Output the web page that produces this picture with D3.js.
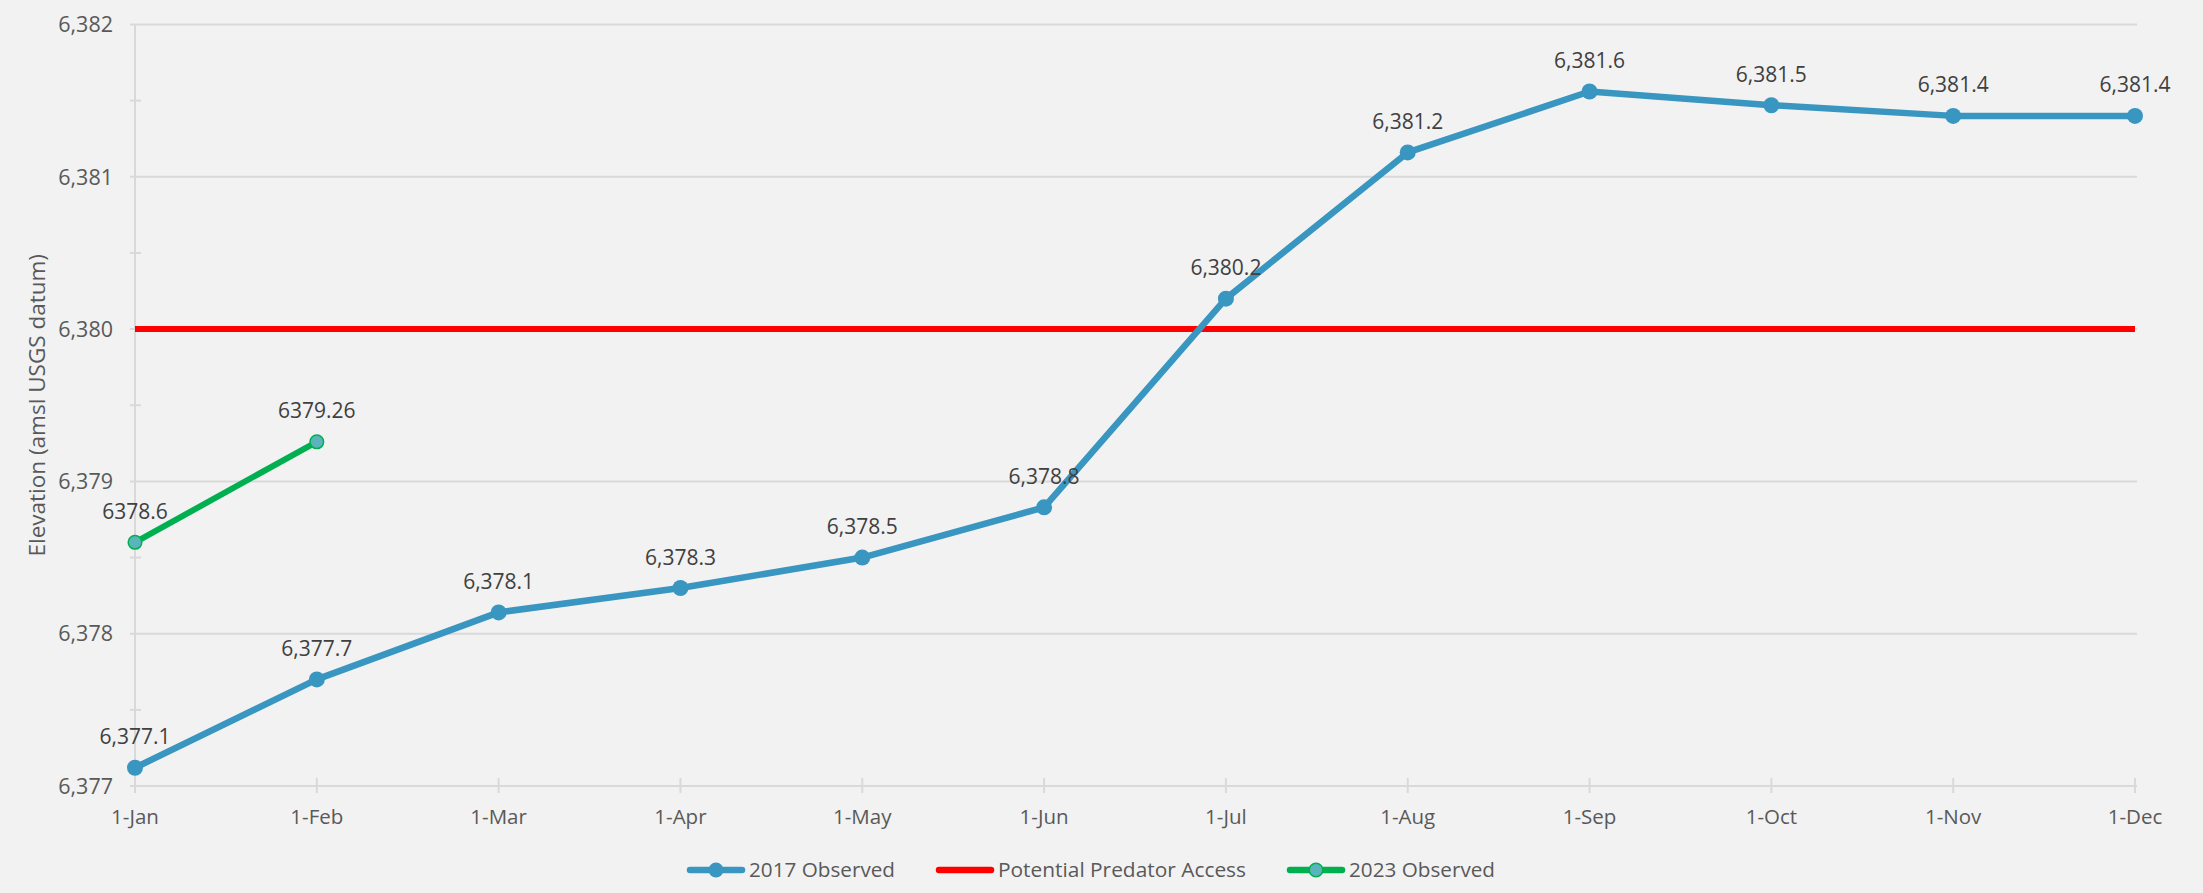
<!DOCTYPE html>
<html><head><meta charset="utf-8">
<script src="https://cdn.jsdelivr.net/npm/d3@7"></script>
<style>html,body{margin:0;padding:0;background:#f2f2f2;}svg{display:block;}</style>
</head><body>
<svg id="c" width="2203" height="893"></svg>
<script>
const months = ["1-Jan","1-Feb","1-Mar","1-Apr","1-May","1-Jun","1-Jul","1-Aug","1-Sep","1-Oct","1-Nov","1-Dec"];
const obs2017 = [6377.12,6377.7,6378.14,6378.3,6378.5,6378.83,6380.2,6381.16,6381.56,6381.47,6381.4,6381.4];
const labels2017 = ["6,377.1","6,377.7","6,378.1","6,378.3","6,378.5","6,378.8","6,380.2","6,381.2","6,381.6","6,381.5","6,381.4","6,381.4"];
const predator = [6380,6380,6380,6380,6380,6380,6380,6380,6380,6380,6380,6380];
const obs2023 = [6378.6,6379.26];
const labels2023 = ["6378.6","6379.26"];
const yTicks = [6377,6378,6379,6380,6381,6382];
const yMinor = [6377.5,6378.5,6379.5,6380.5,6381.5];
const yTitle = "Elevation (amsl USGS datum)";
const legendNames = ["2017 Observed","Potential Predator Access","2023 Observed"];

const svg = d3.select("#c");
const font = "'Open Sans', 'Noto Sans', sans-serif";
const L=135, R=2135, T=24.5, B=786;
const x = d3.scalePoint().domain(months).range([L,R]);
const y = d3.scaleLinear().domain([6377,6382]).range([B,T]);
const grid="#d9d9d9", txt="#595959";

// gridlines
svg.append("g").selectAll("line").data(yTicks).join("line")
  .attr("x1",L-5).attr("x2",R+2).attr("y1",d=>y(d)).attr("y2",d=>y(d))
  .attr("stroke",grid).attr("stroke-width",2);
// y axis line
svg.append("line").attr("x1",L).attr("x2",L).attr("y1",T).attr("y2",B+7).attr("stroke",grid).attr("stroke-width",2);
// minor ticks
svg.append("g").selectAll("line").data(yMinor).join("line")
  .attr("x1",L-5).attr("x2",L+6).attr("y1",d=>y(d)).attr("y2",d=>y(d))
  .attr("stroke",grid).attr("stroke-width",2);
// x ticks
svg.append("g").selectAll("line").data(months).join("line")
  .attr("x1",d=>x(d)).attr("x2",d=>x(d)).attr("y1",B-8).attr("y2",B+7)
  .attr("stroke",grid).attr("stroke-width",2);
// y tick labels
svg.append("g").selectAll("text").data(yTicks).join("text")
  .attr("x",L-22).attr("y",d=>y(d)).attr("dy","0.36em").attr("text-anchor","end")
  .attr("font-family",font).attr("font-size",21.5).attr("fill",txt)
  .text(d=>d3.format(",")(d));
// x tick labels
svg.append("g").selectAll("text").data(months).join("text")
  .attr("x",d=>x(d)).attr("y",817).attr("dy","0.36em").attr("text-anchor","middle")
  .attr("font-family",font).attr("font-size",20.5).attr("fill",txt)
  .text(d=>d);
// y title
svg.append("text").attr("transform",`translate(37,${(T+B)/2}) rotate(-90)`)
  .attr("text-anchor","middle").attr("dy","0.36em")
  .attr("font-family",font).attr("font-size",22.5).attr("fill",txt).text(yTitle);

const line = d3.line().x((d,i)=>x(months[i])).y(d=>y(d));
// predator line
svg.append("path").datum(predator).attr("d",line).attr("fill","none").attr("stroke","#ff0000").attr("stroke-width",6);
// 2017
svg.append("path").datum(obs2017).attr("d",line).attr("fill","none").attr("stroke","#3896c0").attr("stroke-width",6.5).attr("stroke-linejoin","round");
svg.append("g").selectAll("circle").data(obs2017).join("circle")
  .attr("cx",(d,i)=>x(months[i])).attr("cy",d=>y(d)).attr("r",8).attr("fill","#3896c0");
svg.append("g").selectAll("text").data(obs2017).join("text")
  .attr("x",(d,i)=>x(months[i])).attr("y",d=>y(d)-31).attr("dy","0.36em").attr("text-anchor","middle")
  .attr("font-family",font).attr("font-size",21).attr("fill","#404040")
  .text((d,i)=>labels2017[i]);
// 2023
svg.append("path").datum(obs2023).attr("d",line).attr("fill","none").attr("stroke","#00b050").attr("stroke-width",6);
svg.append("g").selectAll("circle").data(obs2023).join("circle")
  .attr("cx",(d,i)=>x(months[i])).attr("cy",d=>y(d)).attr("r",6.8).attr("fill","#5ab4bc").attr("stroke","#00b050").attr("stroke-width",1.5);
svg.append("g").selectAll("text").data(obs2023).join("text")
  .attr("x",(d,i)=>x(months[i])).attr("y",d=>y(d)-31).attr("dy","0.36em").attr("text-anchor","middle")
  .attr("font-family",font).attr("font-size",21).attr("fill","#404040")
  .text((d,i)=>labels2023[i]);

// legend
const leg = [
  {x:690, color:"#3896c0", marker:"blue", w:146},
  {x:939, color:"#ff0000", marker:null, w:248},
  {x:1290, color:"#00b050", marker:"green", w:146}
];
const lg = svg.append("g");
leg.forEach((l,i)=>{
  lg.append("line").attr("x1",l.x).attr("x2",l.x+52).attr("y1",870).attr("y2",870)
    .attr("stroke",l.color).attr("stroke-width",6.5).attr("stroke-linecap","round");
  if(l.marker==="blue") lg.append("circle").attr("cx",l.x+26).attr("cy",870).attr("r",7.5).attr("fill","#3896c0");
  if(l.marker==="green") lg.append("circle").attr("cx",l.x+26).attr("cy",870).attr("r",6.8).attr("fill","#5ab4bc").attr("stroke","#00b050").attr("stroke-width",1.5);
  lg.append("text").attr("x",l.x+59).attr("y",870).attr("dy","0.36em")
    .attr("font-family",font).attr("font-size",20).attr("fill",txt)
    .attr("textLength",l.w).attr("lengthAdjust","spacingAndGlyphs")
    .text(legendNames[i]);
});
</script>
</body></html>
